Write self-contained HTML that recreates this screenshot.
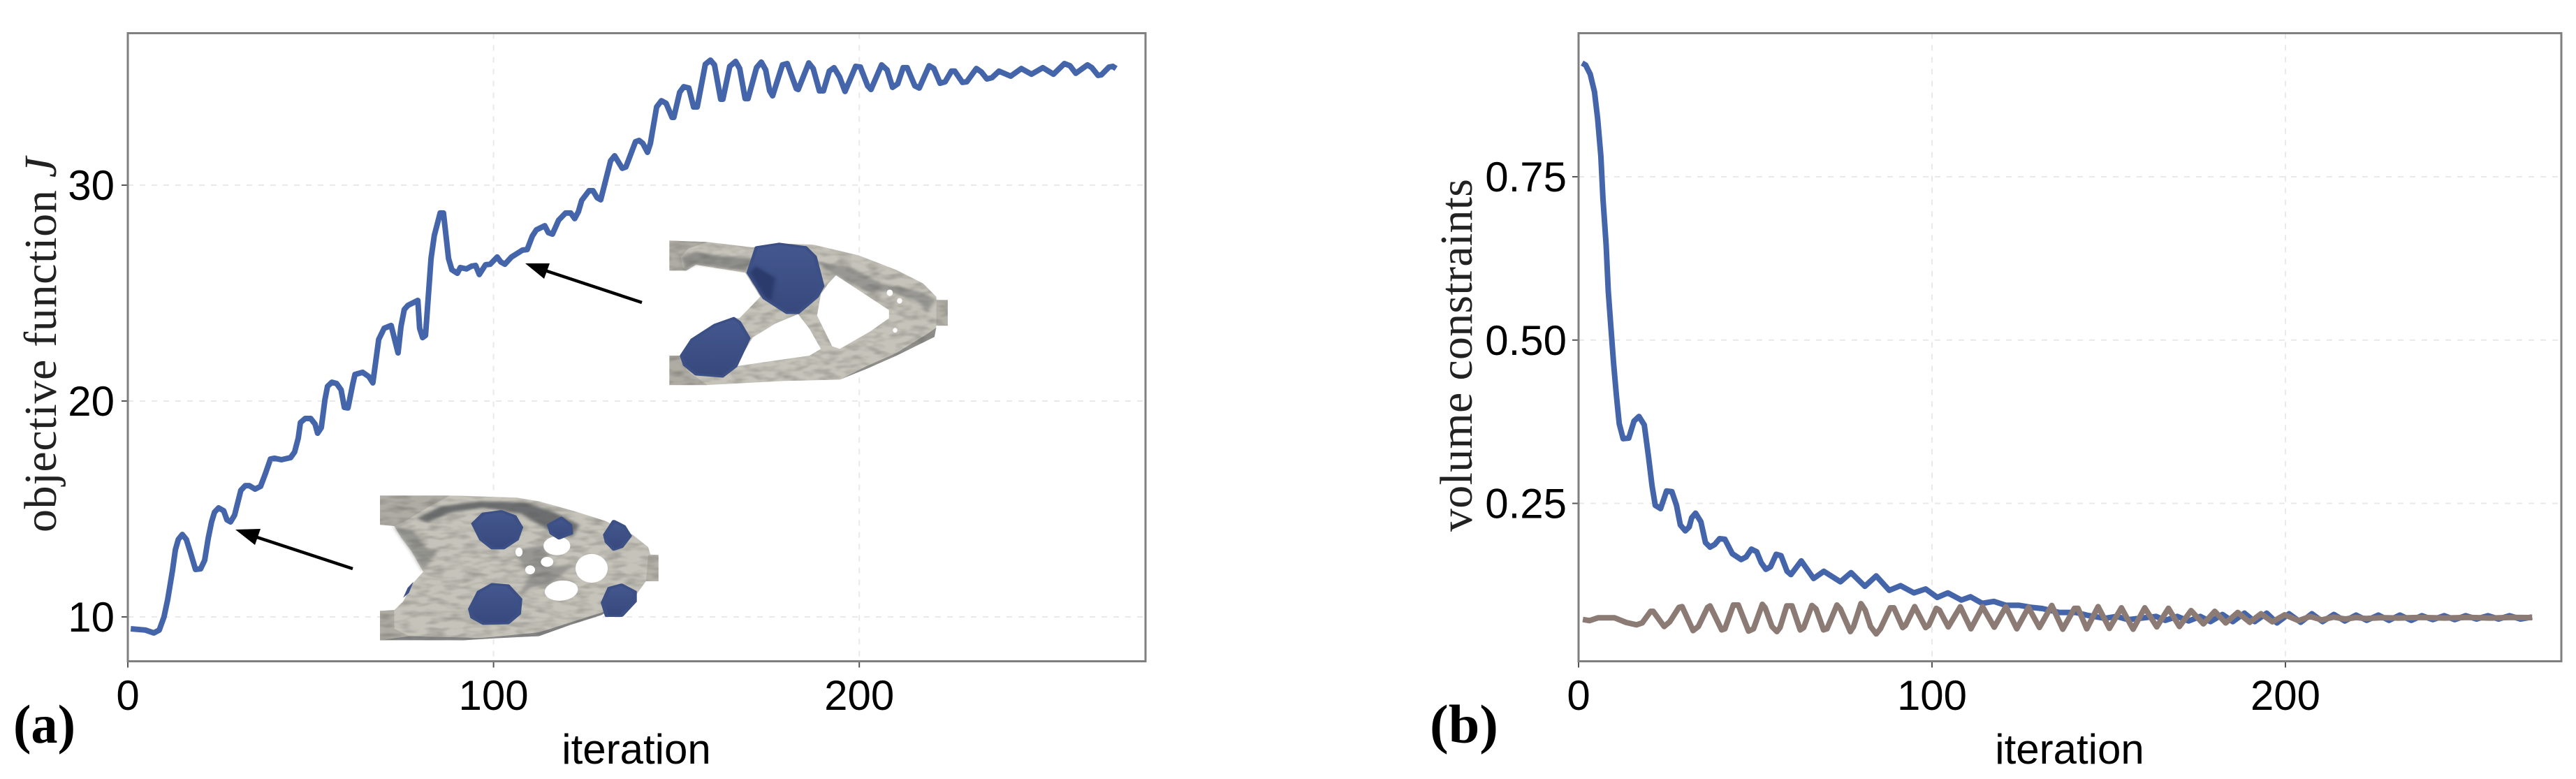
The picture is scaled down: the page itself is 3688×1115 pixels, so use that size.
<!DOCTYPE html>
<html lang="en">
<head>
<meta charset="utf-8">
<title>Objective function and volume constraints</title>
<style>
html,body{margin:0;padding:0;background:#fff;width:3688px;height:1115px;overflow:hidden}
svg{display:block}
.tick{font-family:"Liberation Sans",sans-serif;font-size:60px;fill:#000}
.axis-title{font-family:"Liberation Sans",sans-serif;font-size:60px;fill:#000}
.serif-title{font-family:"Liberation Serif",serif;font-size:66px;fill:#222}
.panel{font-family:"Liberation Serif",serif;font-weight:bold;font-size:78px;fill:#000}
.blob{fill:url(#blob-fill);stroke:#3d5086;stroke-width:9;stroke-linejoin:round}
</style>
</head>
<body>
<svg id="figure" xmlns="http://www.w3.org/2000/svg" width="3688" height="1115" viewBox="0 0 3688 1115">
  <defs>
    <linearGradient id="blob-fill" x1="0" y1="0" x2="0" y2="1">
      <stop offset="0" stop-color="#44588f"/>
      <stop offset="1" stop-color="#37487d"/>
    </linearGradient>
    <filter id="mottle" x="0" y="0" width="1" height="1" color-interpolation-filters="sRGB">
      <feTurbulence type="fractalNoise" baseFrequency="0.025 0.045" numOctaves="2" seed="4" result="noise"/>
      <feColorMatrix in="noise" type="matrix" values="0 0 0 0 0.35  0 0 0 0 0.35  0 0 0 0 0.34  0.8 0 0 0 -0.32" result="dark"/>
      <feComposite in="dark" in2="SourceAlpha" operator="in" result="spots"/>
      <feMerge><feMergeNode in="SourceGraphic"/><feMergeNode in="spots"/></feMerge>
    </filter>
    <filter id="soft" x="-20%" y="-20%" width="140%" height="140%">
      <feGaussianBlur stdDeviation="5"/>
    </filter>
  </defs>
  <rect width="3688" height="1115" fill="#fff"/>
  <g id="chart-a"></g>
  <g id="chart-b"></g>

  <!-- left inset: early design -->
  <g transform="translate(0,560) scale(0.6378,0.354)">
    <g filter="url(#mottle)">
      <path fill="#c6c4ba" d="M853,422 L1025,422 L1160,430 L1210,445 L1290,485 L1360,525 L1420,580 L1455,630 L1460,660 L1478,662 L1478,768 L1450,768 L1425,830 L1350,905 L1280,945 L1210,990 L1100,1000 L1040,1007 L853,1007 L853,888 L885,885 L905,850 L925,780 L950,730 L925,650 L900,590 L885,545 L853,540 Z"/>
      <polygon fill="#aeaca3" points="853,422 1010,422 960,470 905,530 885,545 853,540"/>
      <polygon fill="#b2b0a7" points="1455,662 1478,662 1478,768 1450,768"/>
      <polygon fill="#aeaca3" points="853,888 885,885 885,960 930,1000 1000,1007 853,1007"/>
      <polygon fill="#6d6e70" filter="url(#soft)" points="935,515 990,465 1080,445 1180,450 1245,490 1300,540 1285,590 1235,565 1170,495 1090,470 1010,490 960,530"/>
      <polygon fill="#8b8b88" opacity="0.8" filter="url(#soft)" points="885,545 925,560 960,640 985,640 950,730 925,650 900,590"/>
      <polygon fill="#77777a" opacity="0.8" points="860,1005 920,990 1080,998 1210,975 1350,895 1425,830 1350,905 1280,945 1210,990 1100,1000 1040,1007"/>
      <polygon fill="#7e7e7e" opacity="0.65" filter="url(#soft)" points="1165,640 1225,620 1235,710 1290,700 1230,790 1195,790 1160,840 1190,745 1160,670"/>
    </g>
    <ellipse cx="1328" cy="716" rx="36" ry="58" fill="#fff"/>
    <ellipse cx="1260" cy="806" rx="36" ry="42" fill="#fff" transform="rotate(25 1260 806)"/>
    <ellipse cx="1250" cy="625" rx="30" ry="38" fill="#fff"/>
    <ellipse cx="1228" cy="690" rx="14" ry="20" fill="#fff"/>
    <ellipse cx="1190" cy="722" rx="11" ry="18" fill="#fff"/>
    <ellipse cx="1165" cy="650" rx="8" ry="18" fill="#fff"/>
    <polygon class="blob" points="1062,535 1085,495 1125,485 1155,505 1170,550 1160,600 1130,635 1105,635 1080,600"/>
    <polygon class="blob" points="1232,540 1260,512 1280,540 1282,575 1255,595 1238,575"/>
    <polygon class="blob" points="1358,580 1378,525 1400,545 1414,585 1395,630 1378,640 1362,610"/>
    <polygon class="blob" points="1055,880 1075,810 1105,780 1140,785 1168,840 1165,900 1140,938 1085,940 1060,915"/>
    <polygon class="blob" points="1353,855 1368,795 1395,782 1425,810 1425,850 1395,908 1362,908"/>
    <polygon fill="#3f5389" points="905,835 915,795 928,770 918,815"/>
  </g>

  <!-- right inset: later design -->
  <g transform="translate(850,0) scale(0.542,0.3827)">
    <g filter="url(#mottle)">
      <path fill="#c6c4ba" d="M200,900 L300,905 L420,925 L520,912 L580,915 L700,955 L800,1010 L870,1060 L905,1110 L905,1122 L935,1122 L935,1218 L905,1218 L900,1260 L800,1330 L720,1380 L650,1420 L500,1425 L300,1440 L200,1440 L200,1330 L232,1330 L260,1270 L320,1215 L370,1190 L385,1190 L440,1110 L400,1020 L270,990 L245,1012 L200,1012 Z"/>
      <polygon fill="#aeaca3" points="200,900 300,905 250,930 230,960 235,1000 245,1012 200,1012"/>
      <polygon fill="#7b7b7a" opacity="0.75" filter="url(#soft)" points="232,960 270,940 340,960 420,965 405,1015 270,988 240,1010"/>
      <polygon fill="#aeaca3" points="200,1330 232,1330 245,1385 300,1440 200,1440"/>
      <polygon fill="#b2b0a7" points="905,1122 935,1122 935,1218 905,1218"/>
      <polygon fill="#8d8d8a" opacity="0.8" filter="url(#soft)" points="590,980 680,1000 760,1060 860,1090 905,1120 880,1170 860,1130 780,1090 720,1090 640,1030"/>
      <polygon fill="#7d7d7c" opacity="0.75" points="650,1420 720,1370 800,1320 880,1250 905,1225 900,1260 800,1330 720,1380"/>
    </g>
    <polygon fill="#fff" points="640,1030 710,1095 780,1160 780,1190 730,1240 650,1305 630,1295 590,1180 600,1100 620,1060"/>
    <polygon fill="#fff" points="540,1175 480,1210 420,1262 375,1370 570,1330 600,1305 570,1230"/>
    <ellipse cx="782" cy="1095" rx="8" ry="12" fill="#fff"/>
    <ellipse cx="808" cy="1125" rx="7" ry="10" fill="#fff"/>
    <ellipse cx="796" cy="1235" rx="6" ry="9" fill="#fff"/>
    <polygon class="blob" points="430,925 490,912 560,925 585,960 605,1070 590,1110 540,1170 510,1170 450,1115 408,1020"/>
    <polygon fill="#2c3a6c" filter="url(#soft)" points="412,1020 428,995 480,1040 470,1125 452,1110"/>
    <polygon class="blob" points="232,1330 260,1270 320,1215 370,1190 385,1205 410,1265 375,1370 340,1408 270,1400 240,1365"/>
  </g>

  <g>
    <line x1="505" y1="814" x2="365" y2="768" stroke="#000" stroke-width="4.5"/>
    <polygon fill="#000" points="337,758 373,757 365,780"/>
  </g>
  <g>
    <line x1="919" y1="433" x2="780" y2="387" stroke="#000" stroke-width="4.5"/>
    <polygon fill="#000" points="752,377 787,377 779,399"/>
  </g>

  <text class="panel" x="19" y="1063" textLength="89" lengthAdjust="spacingAndGlyphs">(a)</text>
  <text class="panel" x="2047" y="1063" textLength="98" lengthAdjust="spacingAndGlyphs">(b)</text>
</svg>

<script>
// ---- panel (a) data ----
const objectiveIterations = [0.8,4.8,7.1,8.6,9.9,10.9,12.2,13,13.8,14.9,16,17.2,18.5,19.9,21,22,22.9,23.7,24.8,26.2,27.1,28.1,29.2,30.9,32.1,33.2,34.8,36.3,37.6,39,40.1,42,44.5,45.6,46.6,47.2,48.5,50,51.2,51.9,52.9,53.9,54.6,55.8,57.1,58.3,59.2,60.2,61.5,62.1,64.2,65.9,67,68.6,70.1,72,73.9,74.7,75.6,76.6,79.3,79.8,80.6,81.4,82.9,83.8,85.4,86.3,87.7,88.6,90.1,90.9,92.6,94,95.1,96.1,97.8,99.1,101,102,103.1,104.9,107.9,109.2,110.6,111.7,114,115,116.1,117.8,119.7,121.1,122.2,123.2,124.1,126.1,127.2,128.3,129.3,132,133.1,135.2,136.2,138.8,139.8,140.8,142.1,142.9,144.6,145.9,147.2,148.8,149.3,150.9,152,153.4,154.7,155.7,157.9,159.3,160.4,162.1,162.7,164.6,166.2,167.3,168.8,169.6,171.9,173.2,174.4,175.5,176.3,179,180.3,182.8,183.3,186.2,187.4,189.1,190.2,191.8,193.1,194.6,196.1,199,200.3,202.3,203.2,206.1,207.6,209.1,210.5,212,213.1,215.2,216.4,219.1,220.4,222.1,223.5,225.2,226.1,228.2,229.4,232,233.4,234.9,236.3,238.2,241.4,244.3,247.1,250.2,253.1,256.1,257.6,259.2,262.4,263.6,265.3,266.2,268.3,269.3,270.2];
const objectiveValues = [9.45,9.39,9.26,9.39,10,10.81,12.14,13.11,13.59,13.82,13.59,12.94,12.2,12.23,12.62,13.66,14.4,14.85,15.05,14.92,14.5,14.4,14.72,15.86,16.08,16.08,15.92,16.05,16.63,17.31,17.35,17.28,17.38,17.64,18.28,19,19.19,19.19,18.93,18.51,18.77,20.06,20.68,20.87,20.81,20.52,19.71,19.68,20.78,21.23,21.33,21.13,20.84,22.85,23.37,23.5,22.23,23.46,24.24,24.43,24.66,23.37,22.94,23.04,26.6,27.67,28.71,28.71,26.6,26.08,25.92,26.18,26.12,26.25,26.28,25.86,26.31,26.34,26.67,26.44,26.34,26.67,26.99,27.02,27.64,27.93,28.12,27.8,27.73,28.38,28.71,28.71,28.45,28.77,29.29,29.74,29.74,29.42,29.32,31.13,31.36,30.78,30.84,32.01,32.07,31.94,31.52,31.94,33.62,33.91,33.79,33.14,33.14,34.3,34.56,34.5,33.62,33.62,35.6,35.79,35.57,33.98,33.98,35.5,35.73,35.4,34.01,34.01,35.44,35.7,35.34,34.37,34.14,35.57,35.63,34.47,34.43,35.66,35.4,34.37,34.37,35.28,35.44,35.02,34.34,35.5,35.47,34.6,34.43,35.57,35.34,34.53,34.69,35.44,35.44,34.6,34.5,35.53,35.4,34.72,34.79,35.28,35.28,34.76,34.79,35.4,35.24,34.92,34.98,35.28,35.05,35.4,35.14,35.44,35.14,35.63,35.53,35.18,35.57,35.44,35.08,35.11,35.47,35.5,35.4];
const objectiveYTicks = [10,20,30];
const objectiveYTickLabels = ["10","20","30"];
const objectiveXTicks = [0,100,200];
const objectiveXTickLabels = ["0","100","200"];

// ---- panel (b) data ----
const volumeOneIterations = [1,2,3.3,4.5,5.4,6.3,6.9,7.8,8.4,9.2,9.9,10.7,11.5,12.6,14.2,15.7,17.1,18.6,19.8,20.8,21.7,23.2,24.9,26.4,27.7,28.8,30.2,31.3,32,33.1,34.6,35.9,37.2,38.5,39.9,41.4,43.5,46,47.4,48.9,50.4,51.7,53,54.3,55.9,57.3,59,60.1,63,66.5,69.4,74.1,77.1,81,84.2,87.9,91.1,94.9,98.2,101.5,104.5,108.3,110.9,114.2,117.5,120.9,124.7,127.9,131.2,136,140.7,143.7,148.9,152.2,155.5,163.4,166,169.4,172.6,175.9,178.8,182.2,185.1,188.4,191.3,194.7,197.6,201,204.3,207.5,210.5,213.7,216.8,220,223,226.3,229.3,232.4,235.6,238.6,241.7,244.9,247.9,251,254.1,257.3,260.3,263.4,266.5,269.8];
const volumeOneValues = [0.924,0.921,0.907,0.88,0.839,0.782,0.717,0.645,0.575,0.515,0.465,0.416,0.372,0.349,0.35,0.376,0.383,0.37,0.321,0.277,0.247,0.242,0.269,0.268,0.247,0.217,0.208,0.214,0.228,0.235,0.222,0.19,0.183,0.187,0.196,0.195,0.173,0.164,0.168,0.18,0.176,0.159,0.149,0.153,0.172,0.17,0.146,0.141,0.162,0.135,0.146,0.13,0.144,0.123,0.139,0.117,0.124,0.113,0.119,0.106,0.113,0.102,0.107,0.097,0.1,0.094,0.094,0.091,0.089,0.083,0.083,0.079,0.074,0.077,0.072,0.077,0.071,0.077,0.07,0.077,0.069,0.08,0.069,0.082,0.069,0.082,0.067,0.081,0.068,0.081,0.069,0.08,0.07,0.079,0.071,0.079,0.071,0.079,0.071,0.078,0.072,0.078,0.072,0.078,0.073,0.078,0.073,0.078,0.073,0.076];
const volumeTwoIterations = [1.2,3.1,5.5,10.2,13.5,16.4,18,20.4,21.1,24.2,25.8,28.4,29.3,32.4,33.9,36.5,37.2,40.5,41.4,43.8,45.2,48.1,49.5,52,52.8,54.7,56.1,57,58.9,60.4,62.7,63.7,66,67.2,69.3,70.3,73.1,74.1,76.9,77.8,79.9,81.1,82.6,84.2,85.4,88.2,89.2,91.7,92.5,95.1,98.2,99.1,101.2,102.1,104.6,108,111,114.3,117.6,120.9,124,127.3,130.4,133.9,137,140.3,141.3,143.8,147,150.2,153.6,156.9,160.2,163.6,166.9,170,173.3,176.8,180,183.1,186.5,189.9,193.1,196.3,199.8,203.7,207,210.3,213.6,216.9,220,222.9,227,232,238,245,252,258,264,269.8];
const volumeTwoValues = [0.0722,0.0705,0.0748,0.0748,0.0676,0.0641,0.067,0.0848,0.0848,0.0616,0.0687,0.0908,0.0919,0.0552,0.0616,0.0908,0.093,0.0563,0.058,0.0944,0.0944,0.0545,0.058,0.0955,0.0901,0.0616,0.0537,0.0598,0.093,0.093,0.0563,0.0598,0.0937,0.0883,0.0563,0.058,0.0944,0.0883,0.0537,0.0616,0.0965,0.0866,0.0616,0.0502,0.058,0.0901,0.0901,0.0598,0.0634,0.0919,0.0598,0.0634,0.0894,0.0866,0.0609,0.0917,0.058,0.0917,0.0605,0.0917,0.058,0.0908,0.06,0.0937,0.0574,0.0894,0.0894,0.058,0.0919,0.0587,0.0901,0.0574,0.0901,0.0609,0.0894,0.0616,0.0858,0.0655,0.0848,0.067,0.083,0.068,0.081,0.0687,0.0794,0.0705,0.0768,0.0716,0.0759,0.073,0.0752,0.0737,0.075,0.0745,0.0755,0.0745,0.0755,0.0745,0.0755,0.0751];
const volumeYTicks = [0.25,0.5,0.75];
const volumeYTickLabels = ["0.25","0.50","0.75"];
const volumeXTicks = [0,100,200];
const volumeXTickLabels = ["0","100","200"];

const SVG_NS = "http://www.w3.org/2000/svg";
const SPINE = "#7f7f7f";
const GRID = "#e9e9e9";

function make(parent, tag, attrs) {
  const el = document.createElementNS(SVG_NS, tag);
  for (const k in attrs) el.setAttribute(k, attrs[k]);
  parent.appendChild(el);
  return el;
}

function linearScale(d0, d1, r0, r1) {
  return function (v) { return r0 + (v - d0) * (r1 - r0) / (d1 - d0); };
}

function pointsFrom(xs, ys, sx, sy) {
  return xs.map(function (x, i) { return sx(x).toFixed(1) + "," + sy(ys[i]).toFixed(1); }).join(" ");
}

function drawFrame(g, box, sx, sy, xTicks, xLabels, yTicks, yLabels, yLabelRight) {
  xTicks.forEach(function (t, i) {
    if (t !== 0) {
      const gl = make(g, "line", { x1: sx(t), x2: sx(t), y1: box.top, y2: box.bottom, stroke: GRID, "stroke-width": 2, "stroke-dasharray": "8 9" });
      
      
    }
    const tk = make(g, "line", { x1: sx(t), x2: sx(t), y1: box.bottom, y2: box.bottom + 9, stroke: "#555", "stroke-width": 2 });
    
    
    const lb = make(g, "text", { x: sx(t), y: 1016, "text-anchor": "middle", class: "tick" });
    lb.textContent = xLabels[i];
    
    
  });
  yTicks.forEach(function (t, i) {
    const gl = make(g, "line", { x1: box.left, x2: box.right, y1: sy(t), y2: sy(t), stroke: GRID, "stroke-width": 2, "stroke-dasharray": "8 9" });
    
    
    const tk = make(g, "line", { x1: box.left - 9, x2: box.left, y1: sy(t), y2: sy(t), stroke: "#555", "stroke-width": 2 });
    
    
    const lb = make(g, "text", { x: yLabelRight, y: sy(t) + 21, "text-anchor": "end", class: "tick" });
    lb.textContent = yLabels[i];
    
    
  });
  const fr = make(g, "rect", { x: box.left, y: box.top, width: box.right - box.left, height: box.bottom - box.top, fill: "none", stroke: SPINE, "stroke-width": 3 });
  
  
}

function drawSeries(g, xs, ys, sx, sy, color) {
  const line = make(g, "polyline", { points: pointsFrom(xs, ys, sx, sy), fill: "none", stroke: color, "stroke-width": 8, "stroke-linejoin": "round" });
  return line;
}

// panel (a)
(function () {
  const g = document.getElementById("chart-a");
  const box = { left: 183, right: 1640, top: 47.5, bottom: 946.5 };
  const sx = linearScale(0, 100, 183, 706.6);
  const sy = linearScale(10, 30, 883, 265);
  drawFrame(g, box, sx, sy, objectiveXTicks, objectiveXTickLabels, objectiveYTicks, objectiveYTickLabels, 164);
  const s = drawSeries(g, objectiveIterations, objectiveValues, sx, sy, "#4565ab");
  
  
  const xt = make(g, "text", { x: 911, y: 1093, "text-anchor": "middle", class: "axis-title" });
  xt.textContent = "iteration";
  
  
  const yt = make(g, "text", { transform: "translate(80,493.5) rotate(-90)", "text-anchor": "middle", class: "serif-title", textLength: 537 });
  
  
  yt.appendChild(document.createTextNode("objective function "));
  const j = make(yt, "tspan", { "font-style": "italic" });
  j.textContent = "J";
  
  
})();

// panel (b)
(function () {
  const g = document.getElementById("chart-b");
  const box = { left: 2260, right: 3667, top: 47.5, bottom: 946.5 };
  const sx = linearScale(0, 100, 2260, 2766);
  const sy = linearScale(0.25, 0.75, 720.5, 253);
  drawFrame(g, box, sx, sy, volumeXTicks, volumeXTickLabels, volumeYTicks, volumeYTickLabels, 2243);
  const s1 = drawSeries(g, volumeOneIterations, volumeOneValues, sx, sy, "#4565ab");
  
  
  const s2 = drawSeries(g, volumeTwoIterations, volumeTwoValues, sx, sy, "#8c7b74");
  
  
  const xt = make(g, "text", { x: 2963, y: 1093, "text-anchor": "middle", class: "axis-title" });
  xt.textContent = "iteration";
  
  
  const yt = make(g, "text", { transform: "translate(2107,508.5) rotate(-90)", "text-anchor": "middle", class: "serif-title", textLength: 505 });
  yt.textContent = "volume constraints";
  
  
})();
</script>
</body>
</html>
